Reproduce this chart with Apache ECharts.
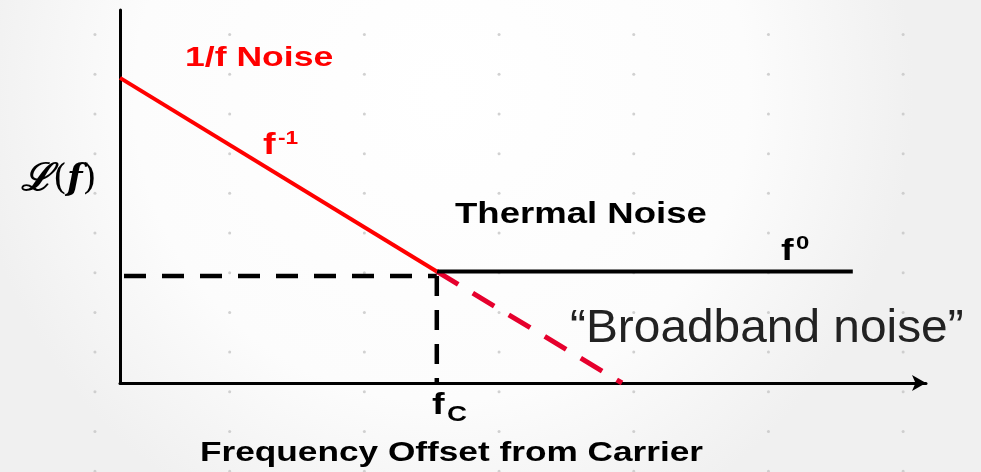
<!DOCTYPE html>
<html>
<head>
<meta charset="utf-8">
<script src="https://cdn.jsdelivr.net/npm/echarts@6/dist/echarts.min.js"></script>
<style>
  html, body { margin: 0; padding: 0; }
  #chart { width: 981px; height: 472px; }
</style>
</head>
<body>
<div id="chart"></div>
<script>
(function() {
  // schematic phase-noise curve, units are arbitrary (0..100 on both axes)
  var flickerNoise = [[0, 81.8], [39.6, 29.9]];      // 1/f slope
  var thermalFloor = [[39.6, 29.9], [91.6, 29.9]];   // flat f^0 floor
  var broadband = [[39.6, 29.9], [62.75, 0]];        // dashed continuation
  var cornerLevel = [[0.5, 28.7], [39.6, 28.7]];     // dashed to y axis
  var cornerFreq = [[39.6, 28.7], [39.6, 0]];        // dashed down to fc

  // background dot pattern (column / row indices)
  var dotCols = [0, 1, 2, 3, 4, 5, 6];
  var dotRows = [0, 1, 2, 3, 4, 5, 6, 7, 8, 9, 10, 11];

  var dots = [];
  dotCols.forEach(function(c) {
    dotRows.forEach(function(r) { dots.push([c, r]); });
  });

  var sans = '"Liberation Sans", Arial, sans-serif';

  function txt(text, x, y, size, color, weight, sx) {
    return {
      type: 'text',
      x: x,
      y: y,
      scaleX: sx,
      z: 10,
      style: {
        text: text,
        font: weight + ' ' + size + 'px ' + sans,
        fill: color,
        textAlign: 'left',
        textVerticalAlign: 'middle'
      }
    };
  }

  var chart = echarts.init(document.getElementById('chart'));

  var option = {
    animation: false,
    backgroundColor: {
      type: 'radial', x: 0.45, y: 0.2, r: 1.0,
      colorStops: [
        { offset: 0, color: '#ffffff' },
        { offset: 0.65, color: '#fcfcfc' },
        { offset: 1, color: '#f0f0f0' }
      ]
    },
    grid: [
      { left: 120, right: 55, top: 10, bottom: 89 },
      { left: 0, right: 0, top: 0, bottom: 0 }
    ],
    xAxis: [
      {
        type: 'value', min: 0, max: 100.75, gridIndex: 0,
        axisLine: {
          show: true,
          symbol: ['none', 'arrow'],
          symbolSize: [12, 14],
          lineStyle: { color: '#000', width: 3 }
        },
        axisTick: { show: false },
        axisLabel: { show: false },
        splitLine: { show: false }
      },
      {
        type: 'value', min: -0.705, max: 6.578, gridIndex: 1, show: false
      }
    ],
    yAxis: [
      {
        type: 'value', min: 0, max: 100, gridIndex: 0,
        axisLine: { show: true, lineStyle: { color: '#000', width: 3 } },
        axisTick: { show: false },
        axisLabel: { show: false },
        splitLine: { show: false }
      },
      {
        type: 'value', min: -0.87, max: 11.02, inverse: true, gridIndex: 1, show: false
      }
    ],
    series: [
      {
        type: 'scatter', xAxisIndex: 1, yAxisIndex: 1, data: dots,
        symbolSize: 3, silent: true, z: 0, clip: false,
        itemStyle: { color: '#c6c6c6' }
      },
      {
        type: 'line', data: cornerLevel, showSymbol: false, clip: false, z: 3,
        lineStyle: { color: '#000', width: 4.5, type: [22, 16] }
      },
      {
        type: 'line', data: cornerFreq, showSymbol: false, clip: false, z: 3,
        lineStyle: { color: '#000', width: 4.5, type: [20, 14] }
      },
      {
        type: 'line', data: broadband, showSymbol: false, clip: false, z: 3,
        lineStyle: { color: '#e6002d', width: 5, type: [25, 17] }
      },
      {
        type: 'line', data: thermalFloor, showSymbol: false, clip: false, z: 4,
        lineStyle: { color: '#000', width: 4 }
      },
      {
        type: 'line', data: flickerNoise, showSymbol: false, clip: false, z: 4,
        lineStyle: { color: '#ff0000', width: 4 }
      }
    ],
    graphic: [
      txt('1/f Noise', 185, 58, 28, '#ff0000', 'bold', 1.27),
      txt('f', 263, 146, 30, '#ff0000', 'bold', 1.26),
      txt('-1', 278, 139, 18, '#ff0000', 'bold', 1.26),
      txt('Thermal Noise', 455, 215, 29, '#000', 'bold', 1.26),
      txt('f', 781, 252, 30, '#000', 'bold', 1.26),
      txt('0', 796, 244, 19, '#000', 'bold', 1.26),
      txt('\u201cBroadband noise\u201d', 570, 329, 46, '#222', 'normal', 1.04),
      txt('f', 432, 406, 30, '#000', 'bold', 1.26),
      txt('C', 447, 415, 22, '#000', 'bold', 1.26),
      txt('Frequency Offset from Carrier', 200, 453, 28, '#000', 'bold', 1.258),
      {
        type: 'text', x: 21, y: 180, z: 10,
        style: {
          text: '{l|\u2112}{p|(}{f|f}{p|)}',
          textVerticalAlign: 'middle',
          rich: {
            l: { fontFamily: '"DejaVu Serif", serif', fontSize: 38, fontWeight: 'bold', fontStyle: 'italic', fill: '#000' },
            p: { fontFamily: '"DejaVu Serif", serif', fontSize: 36, fill: '#000' },
            f: { fontFamily: '"DejaVu Serif", serif', fontSize: 36, fontWeight: 'bold', fontStyle: 'italic', fill: '#000' }
          }
        }
      }
    ]
  };

  chart.setOption(option);
  window.addEventListener('resize', function() { chart.resize(); });
})();
</script>
</body>
</html>
